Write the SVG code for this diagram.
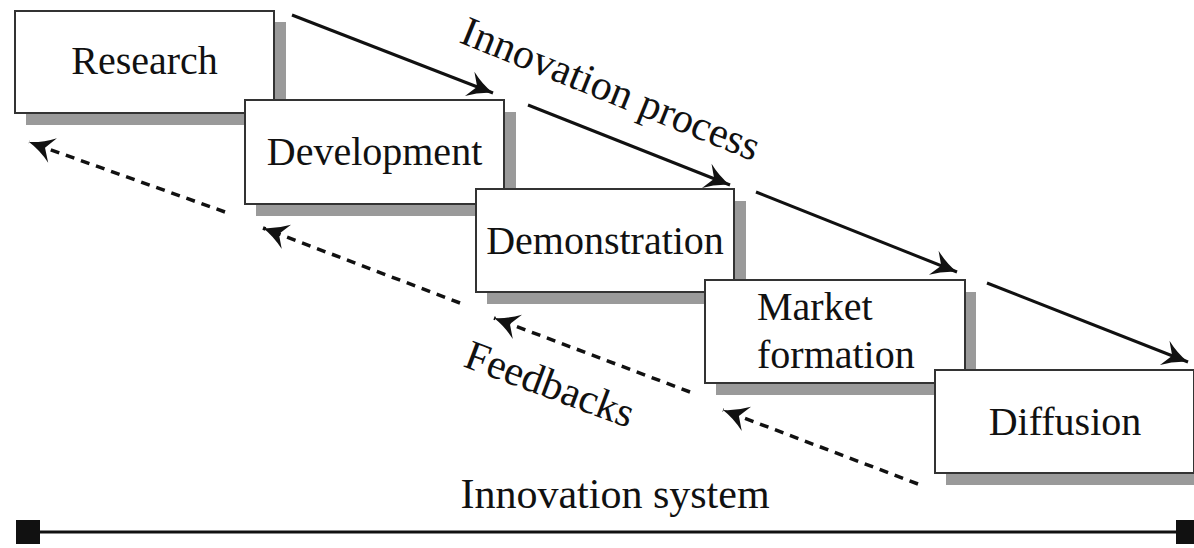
<svg xmlns="http://www.w3.org/2000/svg" width="1194" height="548" viewBox="0 0 1194 548">
<style>
.shadow{fill:#9a9a9a}
.box{fill:#fff;stroke:#333;stroke-width:2}
.lbl{font-family:"Liberation Serif","Times New Roman",serif;font-size:40px;fill:#111}
.big{font-family:"Liberation Serif","Times New Roman",serif;font-size:42px;fill:#111}
.solid{stroke:#111;stroke-width:3;fill:none}
.dash{stroke:#111;stroke-width:3.5;fill:none;stroke-dasharray:9 7}
</style>
<defs>
<marker id="ah" markerUnits="userSpaceOnUse" viewBox="-30 -16 32 32" markerWidth="32" markerHeight="32" refX="0" refY="0" orient="auto">
<path d="M0,0 Q-13,-4 -25,-13 L-17,0 L-25,13 Q-13,4 0,0 Z" fill="#111"/>
</marker>
</defs>
<rect width="1194" height="548" fill="#fff"/>
<g id="research">
<rect class="shadow" x="26" y="22" width="260" height="103"/>
<rect class="box" x="15" y="11" width="259" height="102"/>
<text class="lbl" x="144.5" y="74" text-anchor="middle">Research</text>
</g>
<g id="development">
<rect class="shadow" x="256" y="112" width="260" height="104"/>
<rect class="box" x="245" y="100" width="259" height="104"/>
<text class="lbl" x="374.5" y="165" text-anchor="middle">Development</text>
</g>
<g id="demonstration">
<rect class="shadow" x="487" y="201" width="259" height="103"/>
<rect class="box" x="476" y="189" width="258" height="103"/>
<text class="lbl" x="605" y="254" text-anchor="middle">Demonstration</text>
</g>
<g id="market">
<rect class="shadow" x="716" y="292" width="260" height="103"/>
<rect class="box" x="705" y="280" width="260" height="103"/>
<text class="lbl" x="757" y="320">Market</text>
<text class="lbl" x="757" y="368">formation</text>
</g>
<g id="diffusion">
<rect class="shadow" x="946" y="382" width="260" height="103"/>
<rect class="box" x="935" y="370" width="259" height="103"/>
<text class="lbl" x="1065" y="435" text-anchor="middle">Diffusion</text>
</g>
<g id="connectors">
<line class="solid" x1="292" y1="15" x2="493" y2="93" marker-end="url(#ah)"/>
<line class="solid" x1="528" y1="105" x2="730" y2="185" marker-end="url(#ah)"/>
<line class="solid" x1="756" y1="192" x2="957" y2="272" marker-end="url(#ah)"/>
<line class="solid" x1="987" y1="283" x2="1188" y2="362" marker-end="url(#ah)"/>
<line class="dash" x1="225" y1="212" x2="29" y2="142" marker-end="url(#ah)"/>
<line class="dash" x1="460" y1="303" x2="263" y2="228" marker-end="url(#ah)"/>
<line class="dash" x1="690" y1="392" x2="494" y2="318" marker-end="url(#ah)"/>
<line class="dash" x1="918" y1="484" x2="723" y2="410" marker-end="url(#ah)"/>
</g>
<g id="labels">
<text class="big" transform="translate(458,42) rotate(22)">Innovation process</text>
<text class="big" transform="translate(462,366) rotate(20.5)">Feedbacks</text>
<text class="big" x="615" y="508" text-anchor="middle">Innovation system</text>
</g>
<g id="system-bar">
<line x1="28" y1="532" x2="1186" y2="532" stroke="#111" stroke-width="3"/>
<rect x="16" y="520" width="24" height="24" fill="#111"/>
<rect x="1176" y="520" width="24" height="24" fill="#111"/>
</g>
</svg>
